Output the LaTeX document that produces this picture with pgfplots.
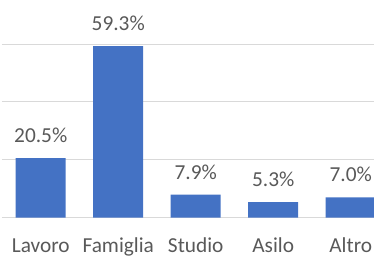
\documentclass[border=0pt]{standalone}
\usepackage{pgfplots}
\pgfplotsset{compat=1.18}
\usepackage{fontspec}
\setmainfont{Carlito}
\definecolor{barblue}{HTML}{4472C4}
\definecolor{gridgray}{HTML}{D9D9D9}
\definecolor{txtgray}{HTML}{595959}
\begin{document}
\begin{tikzpicture}
\path[use as bounding box] (0,0) rectangle (280.5pt,192.75pt);
\clip (0,0) rectangle (280.5pt,192.75pt);
\begin{axis}[
  at={(1.5pt,29.625pt)}, anchor=south west,
  scale only axis, width=279pt, height=130.125pt,
  xmin=-0.5, xmax=4.3, ymin=0, ymax=60,
  axis line style={draw=none},
  tick style={draw=none},
  clip=false,
  ytick={0,20,40,60}, yticklabels={},
  ymajorgrids, grid style={gridgray, line width=0.75pt},
  xtick={0,1,2,3,4},
  xticklabels={Lavoro,Famiglia,Studio,Asilo,Altro},
  major tick length=0pt,
  font=\fontsize{16}{19}\selectfont,
  xticklabel style={text=txtgray, anchor=base, yshift=-26.6pt},
  /pgf/number format/assume math mode=true,
  nodes near coords={\pgfmathprintnumber[fixed,fixed zerofill,precision=1]{\pgfplotspointmeta}\%},
  nodes near coords style={text=txtgray, anchor=base, yshift=11.6pt, font=\fontsize{16}{19}\selectfont},
]
\addplot[ybar, bar width=37.5pt, bar shift=0pt, fill=barblue, draw=none]
  coordinates {(0,20.5) (1,59.3) (2,7.9) (3,5.3) (4,7.0)};
\end{axis}
\end{tikzpicture}
\end{document}
